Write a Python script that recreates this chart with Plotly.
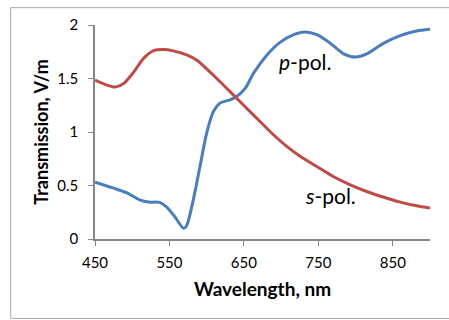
import plotly.graph_objects as go

p_wl = [450, 475, 493, 510, 522, 537, 546, 557, 569, 573, 582, 591, 600, 609, 618, 631, 640,
        652, 663, 681, 699, 717, 732, 748, 766, 784, 800, 815, 838, 860, 882, 900]
p_val = [0.531, 0.475, 0.43, 0.366, 0.345, 0.342, 0.30, 0.21, 0.10, 0.124, 0.366, 0.677, 0.99,
         1.19, 1.27, 1.30, 1.33, 1.41, 1.55, 1.72, 1.84, 1.91, 1.935, 1.91, 1.83, 1.73, 1.70,
         1.73, 1.83, 1.90, 1.944, 1.96]

s_wl = [450, 466, 477, 488, 502, 515, 528, 542, 555, 573, 587, 600, 618, 636, 654, 672, 690,
        708, 726, 748, 770, 793, 815, 838, 860, 882, 900]
s_val = [1.484, 1.438, 1.42, 1.45, 1.56, 1.686, 1.758, 1.77, 1.758, 1.72, 1.67, 1.59, 1.47,
         1.345, 1.22, 1.096, 0.972, 0.863, 0.77, 0.677, 0.584, 0.506, 0.444, 0.39, 0.345,
         0.31, 0.289]

x_ticks = [450, 550, 650, 750, 850]
y_ticks = [0, 0.5, 1, 1.5, 2]
y_tick_text = ["0", "0.5", "1", "1.5", "2"]

FONT = "Lato"

fig = go.Figure()
fig.add_trace(go.Scatter(x=p_wl, y=p_val, mode="lines", name="p-pol.",
                         line=dict(color="#4A7EBB", width=3, shape="spline", smoothing=0.8)))
fig.add_trace(go.Scatter(x=s_wl, y=s_val, mode="lines", name="s-pol.",
                         line=dict(color="#BE4B48", width=3, shape="spline", smoothing=0.8)))

fig.add_annotation(x=733, y=1.66, text="<i>p</i>-pol.", showarrow=False,
                   font=dict(family=FONT, size=21, color="black"))
fig.add_annotation(x=766, y=0.41, text="<i>s</i>-pol.", showarrow=False,
                   font=dict(family=FONT, size=21, color="black"))

# outer chart frame
fig.add_shape(type="rect", xref="paper", yref="paper",
              x0=-0.2516, x1=1.2, y0=-0.371, y1=1.081,
              line=dict(color="#a6a6a6", width=1), fillcolor="rgba(0,0,0,0)", layer="below")

fig.update_layout(
    width=449, height=320,
    margin=dict(l=95, r=19, t=25, b=81),
    paper_bgcolor="white", plot_bgcolor="white",
    showlegend=False,
    font=dict(family=FONT, color="black"),
    xaxis=dict(range=[450, 900], tickvals=x_ticks, ticks="outside", ticklen=5,
               tickcolor="#868686", showline=True, linecolor="#868686", linewidth=1.5,
               showgrid=False, zeroline=False, tickfont=dict(size=15, family=FONT),
               ticklabelstandoff=4,
               title=dict(text="<b>Wavelength, nm</b>", font=dict(size=19, family=FONT), standoff=13)),
    yaxis=dict(range=[0, 2], tickvals=y_ticks, ticktext=y_tick_text, ticks="outside", ticklen=5,
               tickcolor="#868686", showline=True, linecolor="#868686", linewidth=1.5,
               showgrid=False, zeroline=False, tickfont=dict(size=15, family=FONT),
               ticklabelstandoff=7,
               title=dict(text="<b>Transmission, V/m</b>", font=dict(size=18, family=FONT), standoff=4)),
)

fig.write_html("out.html", config={"displayModeBar": False},
               post_script="document.body.style.margin='0';document.body.style.padding='0';")
